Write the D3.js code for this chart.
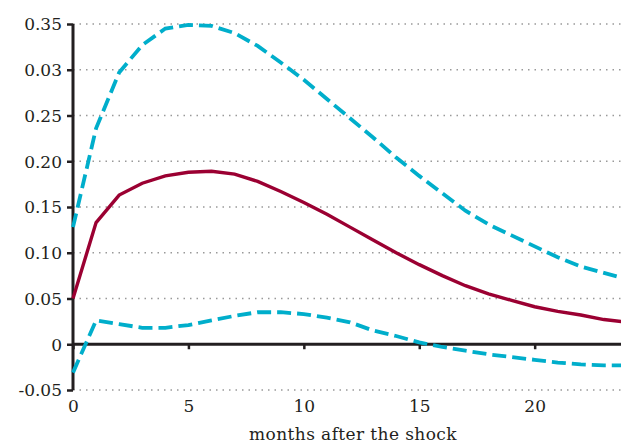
<!DOCTYPE html>
<html><head><meta charset="utf-8">
<script src="https://cdn.jsdelivr.net/npm/d3@7"></script>
<style>body{margin:0;background:#fff}svg{display:block}</style>
</head><body><svg id="c" width="621" height="443"></svg>
<script>
const months = d3.range(0, 25);
const irf =   [0.050,0.133,0.163,0.176,0.184,0.188,0.189,0.186,0.178,0.167,0.155,0.142,0.128,0.114,0.100,0.087,0.075,0.064,0.055,0.048,0.041,0.036,0.032,0.027,0.024];
const upper = [0.128,0.236,0.297,0.327,0.345,0.349,0.348,0.340,0.326,0.308,0.289,0.268,0.247,0.226,0.204,0.184,0.165,0.146,0.131,0.119,0.107,0.095,0.085,0.078,0.071];
const lower = [-0.031,0.026,0.022,0.018,0.018,0.021,0.026,0.031,0.035,0.035,0.033,0.029,0.024,0.015,0.009,0.002,-0.003,-0.007,-0.011,-0.014,-0.017,-0.020,-0.022,-0.023,-0.023];
const yTicks = [0.35,0.30,0.25,0.20,0.15,0.10,0.05,0,-0.05];
const yTickLabels = ["0.35","0.03","0.25","0.20","0.15","0.10","0.05","0","-0.05"];
const xTicks = [0,5,10,15,20];
const xLabel = "months after the shock";

const svg = d3.select("#c");
const W = 621;
const x = d3.scaleLinear().domain([0,24]).range([73, 627]);
const y = d3.scaleLinear().domain([-0.05,0.35]).range([390, 24]);
const font = "DejaVu Serif, serif";
const ink = "#231f20";

// gridlines
svg.append("g").selectAll("line").data(yTicks.filter(d=>d!==0)).join("line")
  .attr("x1",73).attr("x2",W).attr("y1",d=>y(d)).attr("y2",d=>y(d))
  .attr("stroke","#999").attr("stroke-width",1.3).attr("stroke-dasharray","1.5,5");

// y axis
const yAxis = d3.axisLeft(y).tickValues(yTicks).tickSize(6).tickPadding(5)
  .tickFormat((d,i)=>yTickLabels[i]);
const gy = svg.append("g").attr("transform","translate(73,0)").call(yAxis);
gy.select(".domain").attr("stroke",ink).attr("stroke-width",3).attr("d","M0,24V390");
gy.selectAll(".tick line").attr("stroke",ink).attr("stroke-width",2.5);
gy.selectAll("text").attr("font-family",font).attr("font-size",17).attr("fill",ink)
  .attr("dy","0.34em");

// x axis on zero
const xAxis = d3.axisBottom(x).tickValues(xTicks).tickSize(5).tickFormat(d3.format("d"));
const gx = svg.append("g").attr("transform",`translate(0,${y(0)})`).call(xAxis);
gx.select(".domain").attr("stroke",ink).attr("stroke-width",3).attr("d",`M73,0H${W}`);
gx.selectAll(".tick line").attr("stroke",ink).attr("stroke-width",2.5);
gx.selectAll("text").attr("font-family",font).attr("font-size",17).attr("fill",ink)
  .attr("y", 390 - y(0) + 10);

svg.append("text").attr("x",353).attr("y",440).attr("text-anchor","middle")
  .attr("font-family",font).attr("font-size",17).attr("letter-spacing",0.4).attr("fill",ink).text(xLabel);

const clip = svg.append("clipPath").attr("id","clp").append("rect")
  .attr("x",0).attr("y",0).attr("width",W).attr("height",443);

const line = d3.line().x((d,i)=>x(months[i])).y(d=>y(d)).curve(d3.curveLinear);
const g = svg.append("g").attr("clip-path","url(#clp)");
g.append("path").attr("d",line(upper)).attr("fill","none").attr("stroke","#00aecb")
  .attr("stroke-width",3.8).attr("stroke-dasharray","14,6");
g.append("path").attr("d",line(lower)).attr("fill","none").attr("stroke","#00aecb")
  .attr("stroke-width",3.8).attr("stroke-dasharray","14,6");
g.append("path").attr("d",line(irf)).attr("fill","none").attr("stroke","#9b0032")
  .attr("stroke-width",3.4);
</script></body></html>
